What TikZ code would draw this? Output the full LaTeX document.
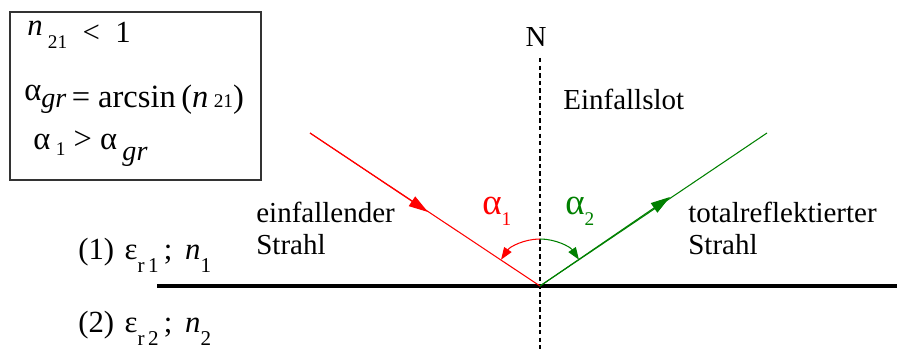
\documentclass[tikz,border=0pt]{standalone}
\usepackage{fontspec}
\setmainfont{Liberation Serif}
\usetikzlibrary{arrows.meta, positioning, calc}

% lowered small index, as in the sketch
\newcommand{\idx}[2][5pt]{\raisebox{-#1}{\fontsize{11}{11}\selectfont #2}}
\newcommand{\idxgr}[1][4pt]{\raisebox{-#1}{\fontsize{16}{16}\selectfont\itshape gr}}

\begin{document}
\begin{tikzpicture}[
    x=0.02cm, y=0.02cm,
    >={Triangle[length=11pt,width=6.5pt]}, % big tips on the rays
    ray/.style={line width=0.6pt}, % thin light ray
    txt/.style={font=\fontsize{16.5}{18}\selectfont, inner sep=0pt, align=left},
    small tip/.style={-{Triangle[length=7pt,width=5pt]}}
]

    % Frame of the picture
    \useasboundingbox (0,0) rectangle (897,352);

    % Reflection point and ray ends
    \coordinate (P) at (540, 66);
    \coordinate (red_start) at (310, 219);
    \coordinate (red_tip) at (428, 140);
    \coordinate (green_end) at (767, 219);
    \coordinate (green_tip) at (670, 155);

    % Boundary between the two media
    \draw[line width=2.3pt] (157, 66) -- (897, 66);

    % Normal (Einfallslot)
    \coordinate (n_top) at (540, 294);
    \coordinate (n_bot) at (540, 0);
    \draw[line width=0.6pt, dash pattern=on 2.5pt off 1.8pt] (n_top) -- (n_bot);
    \node[txt, anchor=base] (N) at (536, 305) {N};
    \node[txt, anchor=base west] (slot) at (563, 242) {Einfallslot};

    % Incident ray (red)
    \draw[ray, red] (red_start) -- (P);
    \draw[->, ray, red] (red_start) -- (red_tip);

    % Reflected ray (green)
    \draw[ray, green!50!black] (P) -- (green_end);
    \draw[->, ray, green!50!black] (P) -- (green_tip);

    % Angle arcs
    \draw[small tip, ray, red] ($(P)+(90:47)$) arc[start angle=90, end angle=146, radius=47];
    \draw[small tip, ray, green!50!black] ($(P)+(90:47)$) arc[start angle=90, end angle=34, radius=47];
    \node[txt, red, anchor=base west, font=\fontsize{21}{21}\selectfont] (a1) at (482, 137) {α\idx[6pt]{1}};
    \node[txt, green!50!black, anchor=base west, font=\fontsize{21}{21}\selectfont] (a2) at (565, 137) {α\idx[6pt]{2}};

    % Ray labels
    \node[txt, anchor=north west] (inc) at (256, 150) {einfallender\\Strahl};
    \node[txt, anchor=north west] (refl) at (688, 150) {totalreflektierter\\Strahl};

    % Media
    \node[txt, anchor=base west, font=\fontsize{17.5}{18}\selectfont] (med1) at (78, 92) {(1)\hspace{6pt}ε\idx[7pt]{\fontsize{12}{12}\selectfont r\,1}\,; \,\textit{n}\idx[7pt]{\fontsize{12}{12}\selectfont 1}};
    \node[txt, anchor=base west, font=\fontsize{17.5}{18}\selectfont] (med2) at (78, 19) {(2)\hspace{6pt}ε\idx[7pt]{\fontsize{12}{12}\selectfont r\,2}\,; \,\textit{n}\idx[7pt]{\fontsize{12}{12}\selectfont 2}};

    % Box with the condition
    \draw[line width=0.8pt, black!80] (10, 172) rectangle (261, 340);
    \node[txt, anchor=base west, font=\fontsize{17.5}{18}\selectfont] (c1) at (27, 309) {\raisebox{4pt}{\textit{n}}\,\idx[3pt]{21}\ \ <\ \ 1};
    \node[txt, anchor=base west, font=\fontsize{18.5}{19}\selectfont] (c2) at (24, 244) {\raisebox{4pt}{α}\idxgr[0pt]\,= arcsin\,(\textit{n}\,\idx[0pt]{21})};
    \node[txt, anchor=base west, font=\fontsize{18.5}{19}\selectfont] (c3) at (33, 202) {α\,\idx[3pt]{1} > α\,\idxgr[6pt]};

\end{tikzpicture}
\end{document}
